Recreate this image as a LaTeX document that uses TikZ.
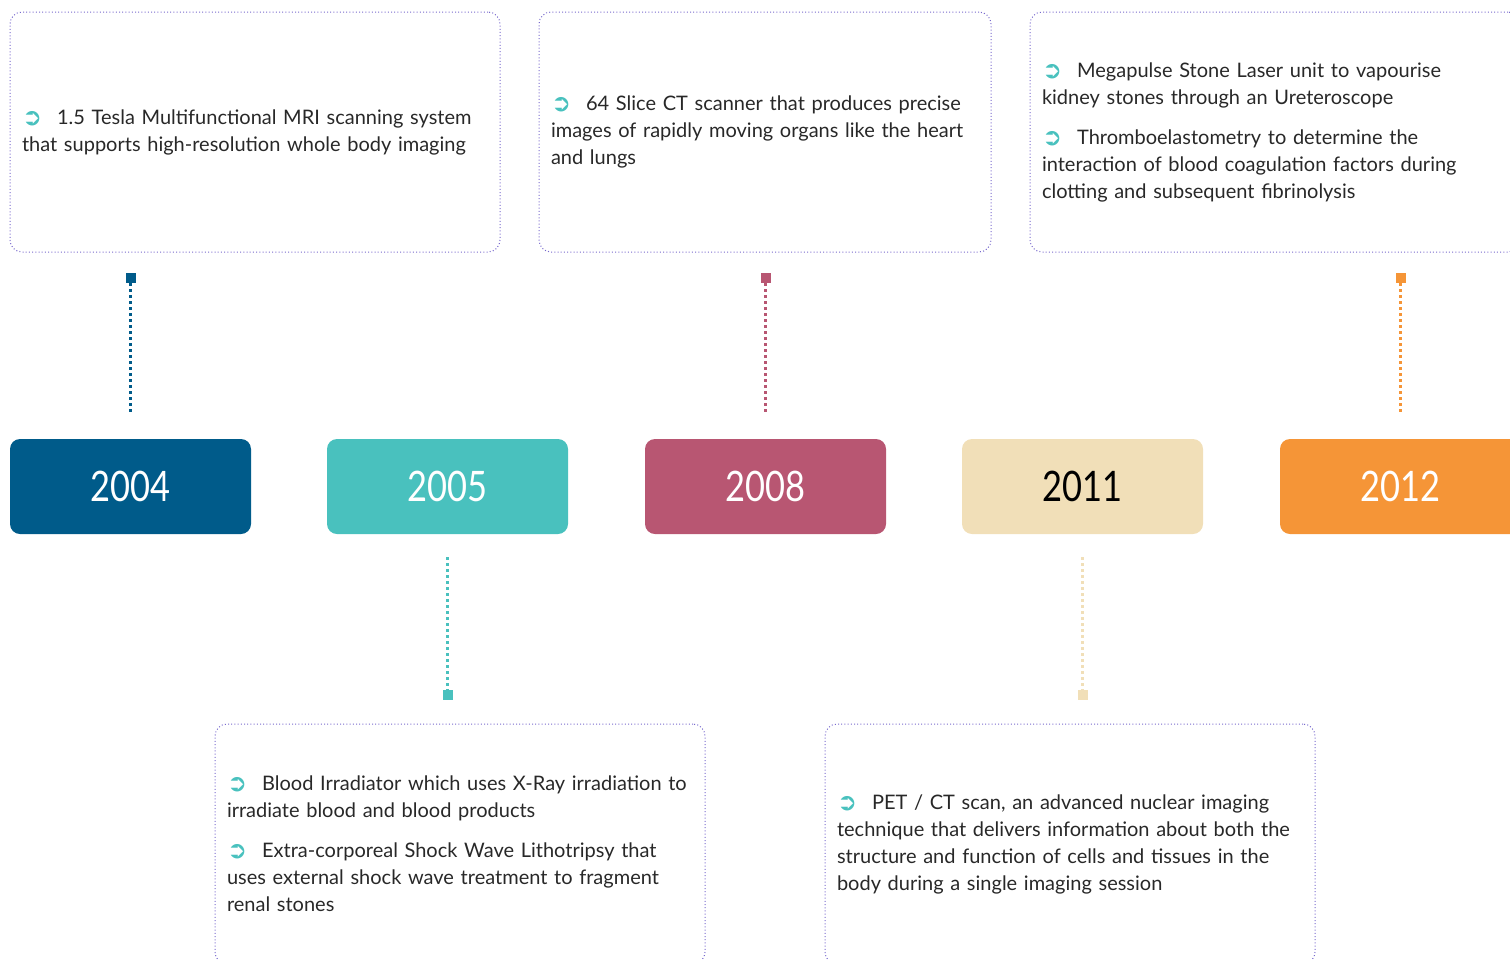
\documentclass[tikz,border=0pt]{standalone}
\usepackage{fontspec}
\setmainfont{Lato}
\newfontfamily\yearfont{Lato}[FakeStretch=0.82]
\newfontfamily\bulletfont{DejaVu Sans}
\usetikzlibrary{positioning}

\definecolor{c2004}{RGB}{0,91,138}
\definecolor{c2005}{RGB}{73,193,190}
\definecolor{c2008}{RGB}{184,86,114}
\definecolor{c2011}{RGB}{241,223,184}
\definecolor{c2012}{RGB}{245,149,55}
\definecolor{framec}{RGB}{120,105,205}
\definecolor{ink}{RGB}{40,40,40}

\newcommand{\itm}{\raisebox{-1pt}{\bulletfont\color{c2005}\fontsize{24}{24}\selectfont ➲}\hspace{15pt}}

\begin{document}
\begin{tikzpicture}[x=1pt, y=-1pt,
    infobox/.style={draw=framec, line width=1pt, dash pattern=on 1pt off 2.2pt,
        rounded corners=12pt, inner xsep=12pt, inner ysep=0pt, minimum height=240pt,
        align=left, text=ink, font=\fontsize{20}{27}\selectfont},
    yearbox/.style={rounded corners=10pt, minimum width=241pt, minimum height=95pt,
        inner sep=0pt, text=white, font=\yearfont\fontsize{42}{42}\selectfont},
    dotsq/.style={rectangle, minimum size=10pt, inner sep=0pt},
    link/.style={line width=2.6pt, dash pattern=on 3pt off 3pt}]
    \useasboundingbox (0,0) rectangle (1510,959);

    % Year row
    \node[yearbox, fill=c2004] (y2004) at (130.5,486.5) {2004};
    \node[yearbox, fill=c2005] (y2005) at (447.5,486.5) {2005};
    \node[yearbox, fill=c2008] (y2008) at (765.5,486.5) {2008};
    \node[yearbox, fill=c2011, text=black] (y2011) at (1082.5,486.5) {2011};
    \node[yearbox, fill=c2012] (y2012) at (1400.5,486.5) {2012};

    % Top notes
    \node[infobox, text width=466pt] (n2004) at (255,132) {\itm 1.5 Tesla Multifunctional MRI scanning system\\
        that supports high-resolution whole body imaging};
    \node[infobox, text width=428pt] (n2008) at (765,132) {\itm 64 Slice CT scanner that produces precise\\
        images of rapidly moving organs like the heart\\ and lungs};
    \node[infobox, text width=466pt] (n2012) at (1275,132) {\itm Megapulse Stone Laser unit to vapourise\\
        kidney stones through an Ureteroscope\\[13pt]
        \itm Thromboelastometry to determine the\\ interaction of blood coagulation factors during\\
        clotting and subsequent fibrinolysis};

    % Bottom notes
    \node[infobox, text width=466pt] (n2005) at (460,844) {\itm Blood Irradiator which uses X-Ray irradiation to\\
        irradiate blood and blood products\\[13pt]
        \itm Extra-corporeal Shock Wave Lithotripsy that\\ uses external shock wave treatment to fragment\\ renal stones};
    \node[infobox, text width=466pt] (n2011) at (1070,844) {\itm PET / CT scan, an advanced nuclear imaging\\
        technique that delivers information about both the\\ structure and function of cells and tissues in the\\
        body during a single imaging session};

    % Markers and links above
    \node[dotsq, fill=c2004] (m2004) at (130.5,278) {};
    \node[dotsq, fill=c2008] (m2008) at (765.5,278) {};
    \node[dotsq, fill=c2012] (m2012) at (1400.5,278) {};
    \draw[link, c2004] (m2004.south) -- ([yshift=24pt]y2004.north);
    \draw[link, c2008] (m2008.south) -- ([yshift=24pt]y2008.north);
    \draw[link, c2012] (m2012.south) -- ([yshift=24pt]y2012.north);

    % Markers and links below
    \node[dotsq, fill=c2005] (m2005) at (447.5,695) {};
    \node[dotsq, fill=c2011] (m2011) at (1082.5,695) {};
    \draw[link, c2005] ([yshift=-23pt]y2005.south) -- (m2005.north);
    \draw[link, c2011] ([yshift=-23pt]y2011.south) -- (m2011.north);
\end{tikzpicture}
\end{document}
